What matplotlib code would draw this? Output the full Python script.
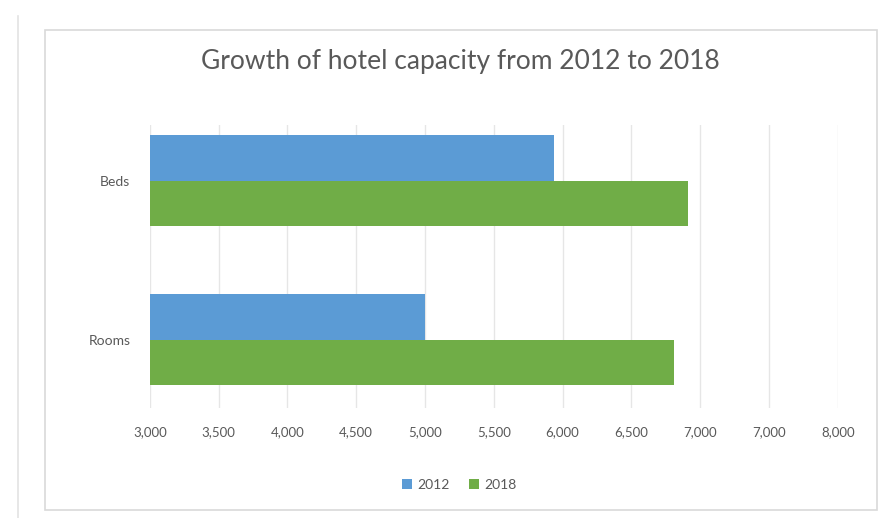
import matplotlib.pyplot as plt
from matplotlib.patches import Rectangle
from matplotlib.lines import Line2D

# Data
categories = ["Rooms", "Beds"]
values_2012 = [5000, 5940]
values_2018 = [6810, 6910]
series_names = ["2012", "2018"]
tick_values = [3000, 3500, 4000, 4500, 5000, 5500, 6000, 6500, 7000, 7500, 8000]
tick_labels = ["3,000", "3,500", "4,000", "4,500", "5,000", "5,500",
               "6,000", "6,500", "7,000", "7,000", "8,000"]

blue = "#5B9BD5"
green = "#70AD47"
text_col = "#595959"

plt.rcParams['font.family'] = ['Lato', 'DejaVu Sans']

fig = plt.figure(figsize=(8.81, 5.18), dpi=100)
ax = fig.add_axes([0.170, 0.212, 0.781, 0.547])

# chart frame like the spreadsheet export
fig.patches.append(Rectangle((0.051, 0.015), 0.944, 0.927, transform=fig.transFigure,
                             fill=False, edgecolor="#d9d9d9", linewidth=1.2))
fig.lines.append(Line2D([0.02, 0.02], [0.0, 0.97], transform=fig.transFigure,
                        color="#e3e3e3", linewidth=1.2))

h = 0.285
y = list(range(len(categories)))
ax.barh([i + h / 2 for i in y], values_2012, height=h, left=0, color=blue, label=series_names[0], zorder=2)
ax.barh([i - h / 2 for i in y], values_2018, height=h, left=0, color=green, label=series_names[1], zorder=2)

ax.set_xlim(3000, 8000)
ax.set_ylim(-0.43, 1.35)
ax.set_xticks(tick_values)
ax.set_xticklabels(tick_labels)
ax.set_yticks(y)
ax.set_yticklabels(categories)
ax.tick_params(axis='both', length=0, labelsize=9.5, colors=text_col)
ax.tick_params(axis='x', pad=13)
ax.tick_params(axis='y', labelsize=10, pad=14)
ax.grid(axis='x', color="#e6e6e6", linewidth=1.0, zorder=0)
for s in ax.spines.values():
    s.set_visible(False)

fig.text(0.522, 0.882, "Growth of hotel capacity from 2012 to 2018", ha="center", va="center",
         fontsize=19, color=text_col)

ax.legend(loc="center", bbox_to_anchor=(0.45, -0.27), ncol=2, frameon=False,
          fontsize=10, labelcolor=text_col, handlelength=0.7, handleheight=0.7,
          handletextpad=0.4, columnspacing=1.4)

fig.savefig("out.png", dpi=100)
